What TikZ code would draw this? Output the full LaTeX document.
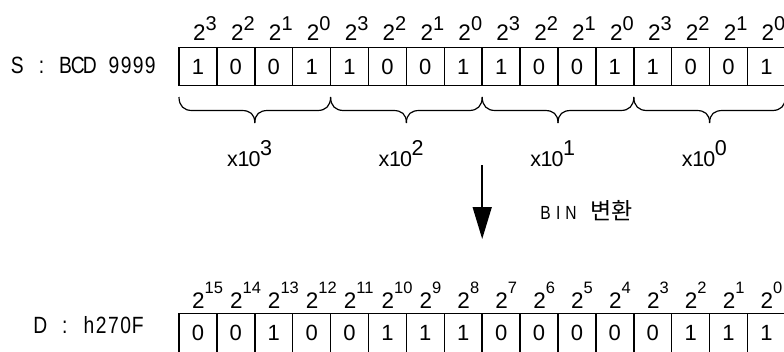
\documentclass[tikz,border=0pt]{standalone}
\usepackage{fontspec}
\usetikzlibrary{arrows.meta}
\newfontfamily\labf[FakeStretch=0.82]{Liberation Sans}
\newfontfamily\digf{Liberation Sans}
\newfontfamily\krf{Noto Sans CJK KR}
\newcommand\fsz[1]{\fontsize{#1}{#1}\selectfont}
\makeatletter
\newcommand\monostr[2]{\@tfor\mch:=#2\do{\makebox[#1]{\mch}}}
\makeatother
\begin{document}
\begin{tikzpicture}[x=1pt,y=-1pt,
  cell/.style={draw, line width=1.5pt, minimum width=37.9pt, minimum height=37.6pt, inner sep=0pt, font=\digf\fsz{22}},
  pw/.style={anchor=base, inner sep=0pt, font=\digf\fsz{22.5}},
  lab/.style={anchor=base west, inner sep=0pt, font=\labf\fsz{23.5}},
  brc/.style={line width=1.2pt},
  arr/.style={line width=1.5pt, -{Triangle[width=19pt,length=32pt]}}]
\fill[white] (0,0) rectangle (784,351);
\useasboundingbox (0,0) rectangle (784,351);
\begin{scope}
\clip (0,0) rectangle (784,351);
% labels
\node[lab] (slab) at (11,73.3) {\monostr{12.1pt}{S~:~BCD~9999}};
\node[lab] (dlab) at (34,333.3) {\monostr{12.2pt}{D~:~h270F}};
% top cells
\foreach \b [count=\i] in {1,0,0,1,1,0,0,1,1,0,0,1,1,0,0,1}
  \node[cell] (s\i) at ({179+37.9*(\i-0.5)},66.5) {\b};
\foreach \p [count=\i] in {3,2,1,0,3,2,1,0,3,2,1,0,3,2,1,0}
  \node[pw] (ps\i) at ({180.5+37.9*(\i-0.5)},40.7) {2\rlap{\raisebox{10.5pt}{\fsz{20}\p}}};
% bottom cells
\foreach \b [count=\i] in {0,0,1,0,0,1,1,1,0,0,0,0,0,1,1,1}
  \node[cell, minimum height=39pt] (d\i) at ({179+37.9*(\i-0.5)},332.8) {\b};
\foreach \p [count=\i] in {15,14,13,12,11,10,9,8,7,6,5,4,3,2,1,0}
  \node[pw] (pd\i) at ({179.5+37.9*(\i-0.5)},308.3) {2\rlap{\raisebox{14.5pt}{\fsz{16.5}\p}}};
% braces
\foreach \xa in {179,330.6,482.2,633.8}{
  \pgfmathsetmacro\xm{\xa+75.8}
  \pgfmathsetmacro\xb{\xa+151.6}
  \draw[brc] (\xa,97) .. controls (\xa,106) and ({\xa+5},110.5) .. ({\xa+13},110.5) -- ({\xm-13},110.5) .. controls ({\xm-5},110.5) and (\xm,114) .. (\xm,123);
  \draw[brc] (\xb,97) .. controls (\xb,106) and ({\xb-5},110.5) .. ({\xb-13},110.5) -- ({\xm+13},110.5) .. controls ({\xm+5},110.5) and (\xm,114) .. (\xm,123);
}
% multipliers
\foreach \n [count=\k] in {3,2,1,0}
  \node[lab, font=\digf\fsz{21.5}] (m\k) at ({179+151.6*(\k-1)+75.8-28},166.7) {\monostr{11pt}{x10}\raisebox{11.7pt}{\n}};
% arrow
\coordinate (atop) at (482.2,165);
\coordinate (abot) at (482.2,239);
\draw[arr] (atop) -- (abot);
\node[lab, font=\labf\fsz{19}] (bin) at (539,219.3) {\monostr{12.7pt}{BIN~}{\krf\fsz{23}변환}};
\end{scope}
\end{tikzpicture}
\end{document}
